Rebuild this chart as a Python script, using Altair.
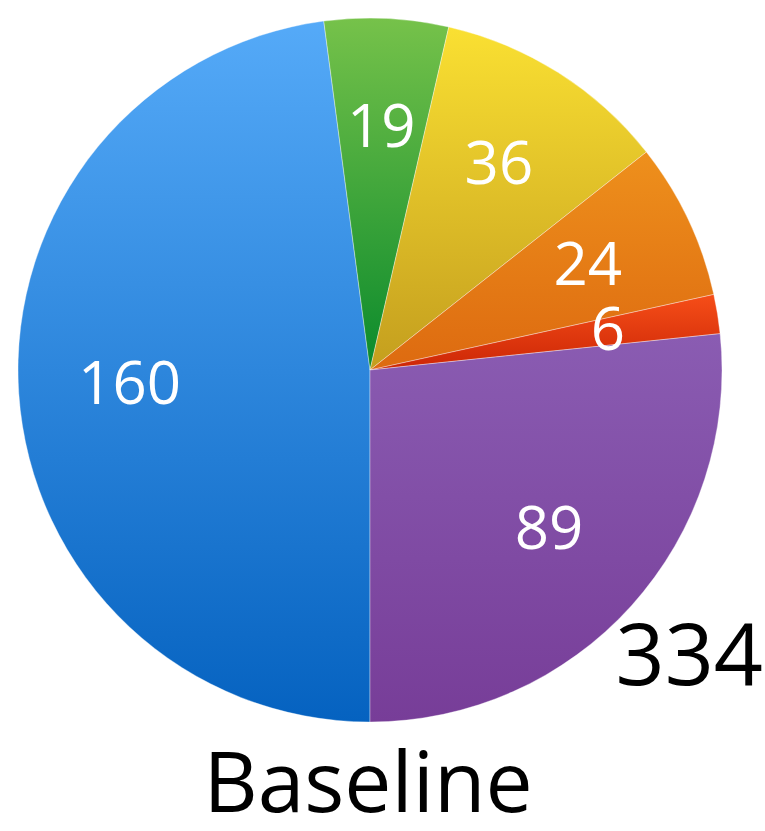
import math
import altair as alt
import pandas as pd

categories = ["A", "B", "C", "D", "E", "F"]
values = [160, 19, 36, 24, 6, 89]
order = [0, 1, 2, 3, 4, 5]
top_colors = ["#55aaf8", "#76c24a", "#fae032", "#ee901c", "#f64e18", "#8a5cb2"]
bottom_colors = ["#0562c0", "#0a8a2c", "#c49e1e", "#dd6a10", "#cc2606", "#773d98"]
title_text = "Baseline"

df = pd.DataFrame({"cat": categories, "value": values, "ord": order})
total = sum(values)


def grad(top, bottom):
    return {
        "gradient": "linear",
        "x1": 0, "y1": 0, "x2": 0, "y2": 1,
        "stops": [{"offset": 0, "color": top}, {"offset": 1, "color": bottom}],
    }


fill_rule = None
for c, t, b in zip(categories[:-1], top_colors[:-1], bottom_colors[:-1]):
    if fill_rule is None:
        fill_rule = alt.when(alt.datum.cat == c).then(alt.value(grad(t, b)))
    else:
        fill_rule = fill_rule.when(alt.datum.cat == c).then(alt.value(grad(t, b)))
fill_rule = fill_rule.otherwise(alt.value(grad(top_colors[-1], bottom_colors[-1])))

theta_enc = alt.Theta("value:Q", stack=True,
                      scale=alt.Scale(domain=[0, total], range=[math.pi, 3 * math.pi]))

base = alt.Chart(df)

pie = base.mark_arc(outerRadius=352, stroke="#ffffff", strokeWidth=0.6, strokeOpacity=0.6).encode(
    theta=theta_enc,
    order=alt.Order("ord:Q"),
    fill=fill_rule,
    x=alt.value(370),
    y=alt.value(370),
)

labels = base.mark_text(radius=241, fontSize=60, font="Open Sans", color="white",
                        align="center", baseline="middle").encode(
    theta=theta_enc,
    order=alt.Order("ord:Q"),
    text=alt.Text("value:Q"),
    x=alt.value(370),
    y=alt.value(370),
)

total_text = base.transform_aggregate(total="sum(value)").mark_text(
    fontSize=86, font="Open Sans", color="black", align="right", baseline="alphabetic"
).encode(text=alt.Text("total:Q"), x=alt.value(763), y=alt.value(685))

title = alt.Chart(pd.DataFrame({"t": [title_text]})).mark_text(
    fontSize=84, font="Open Sans", color="black", align="center", baseline="alphabetic"
).encode(text="t:N", x=alt.value(368), y=alt.value(812))

chart = alt.layer(pie, labels, total_text, title).properties(
    width=765, height=831, autosize=alt.AutoSizeParams(type="none"), padding=0
).configure_view(stroke=None)

chart.save("out.html", embed_options={"renderer": "svg", "actions": False})
